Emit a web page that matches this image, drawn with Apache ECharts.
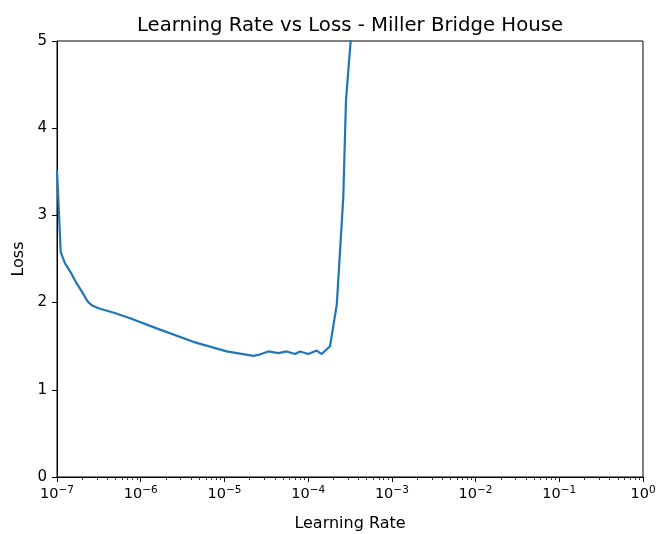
<!DOCTYPE html>
<html>
<head>
<meta charset="utf-8">
<script src="https://cdn.jsdelivr.net/npm/echarts@6/dist/echarts.min.js"></script>
<style>
  html, body { margin: 0; padding: 0; background: #fff; }
  #chart { width: 657px; height: 534px; }
</style>
</head>
<body>
<div id="chart"></div>
<script>
// Learning-rate sweep: learning rate (log scale) and the smoothed loss at each step
const learningRates = [
  1.00e-7, 1.107e-7, 1.247e-7, 1.45e-7, 1.718e-7, 2.0e-7, 2.265e-7, 2.45e-7,
  2.69e-7, 3.266e-7, 4.9e-7, 7.447e-7, 1.698e-6, 4.246e-6, 1.064e-5, 2.213e-5,
  2.541e-5, 3.342e-5, 4.406e-5, 5.546e-5, 6.966e-5, 7.998e-5, 1.005e-4,
  1.265e-4, 1.452e-4, 1.824e-4, 2.2e-4, 2.630e-4, 2.831e-4, 3.342e-4
];
const losses = [
  3.52, 2.58, 2.45, 2.35, 2.22, 2.12, 2.03, 1.99,
  1.96, 1.93, 1.88, 1.82, 1.69, 1.55, 1.44, 1.39,
  1.40, 1.44, 1.42, 1.44, 1.41, 1.44, 1.41,
  1.45, 1.41, 1.50, 1.98, 3.21, 4.32, 5.20
];
const yTicks = [0, 1, 2, 3, 4, 5];

const titleText = 'Learning Rate vs Loss - Miller Bridge House';
const xName = 'Learning Rate';
const yName = 'Loss';

const FONT = 'DejaVu Sans';
const chart = echarts.init(document.getElementById('chart'), null, { renderer: 'canvas' });

chart.setOption({
  animation: false,
  backgroundColor: '#ffffff',
  textStyle: { fontFamily: FONT },
  title: {
    text: titleText,
    left: 345, top: 11, textAlign: 'center',
    textStyle: { fontFamily: FONT, fontSize: 19.7, fontWeight: 'normal', color: '#000' }
  },
  grid: {
    left: 57, right: 14, top: 41, bottom: 57,
    containLabel: false,
    outerBoundsMode: 'none',
    show: true, borderColor: '#000', borderWidth: 1, backgroundColor: 'transparent'
  },
  xAxis: {
    type: 'log', logBase: 10, min: 1e-7, max: 1,
    name: xName, nameLocation: 'middle', nameGap: 39,
    nameTextStyle: { fontFamily: FONT, fontSize: 16, color: '#000' },
    axisLine: { show: true, lineStyle: { color: '#000', width: 1 } },
    axisTick: { show: true, inside: false, length: 5, lineStyle: { color: '#000', width: 1 } },
    minorTick: { show: true, splitNumber: 9, length: 3, lineStyle: { color: '#000', width: 0.8 } },
    splitLine: { show: false },
    minorSplitLine: { show: false },
    axisLabel: {
      margin: 8,
      formatter: function (v) {
        const e = Math.round(Math.log10(v));
        return '{b|10}{e|' + (e < 0 ? '\u2212' + (-e) : e) + '}';
      },
      rich: {
        b: { fontFamily: FONT, fontSize: 14.5, color: '#000' },
        e: { fontFamily: FONT, fontSize: 10.5, color: '#000', verticalAlign: 'bottom', padding: [0, 0, 8, 0] }
      }
    }
  },
  yAxis: {
    type: 'value', min: 0, max: 5, interval: 1,
    name: yName, nameLocation: 'middle', nameGap: 28, nameRotate: 90,
    nameTextStyle: { fontFamily: FONT, fontSize: 16, color: '#000' },
    axisLine: { show: true, lineStyle: { color: '#000', width: 1 } },
    axisTick: { show: true, inside: false, length: 5, lineStyle: { color: '#000', width: 1 } },
    splitLine: { show: false },
    axisLabel: {
      margin: 10, fontFamily: FONT, fontSize: 15, color: '#000',
      formatter: function (v) { return yTicks.indexOf(v) >= 0 ? String(v) : ''; }
    }
  },
  series: [{
    type: 'line',
    data: learningRates.map((lr, i) => [lr, losses[i]]),
    showSymbol: false,
    symbol: 'none',
    clip: true,
    lineStyle: { color: '#1f77b4', width: 2.2 },
    itemStyle: { color: '#1f77b4' }
  }]
});
</script>
</body>
</html>
